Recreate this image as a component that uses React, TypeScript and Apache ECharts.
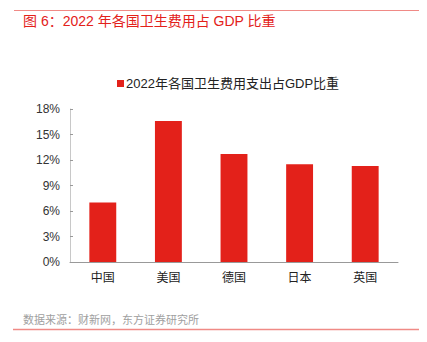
import React, { useEffect, useRef } from "react";
import * as echarts from "echarts";

const categories = ["中国", "美国", "德国", "日本", "英国"];
const values = [7.0, 16.6, 12.7, 11.5, 11.3];
const seriesName = "2022年各国卫生费用支出占GDP比重";
const titleText = "图 6：2022 年各国卫生费用占 GDP 比重";
const sourceText = "数据来源：财新网，东方证券研究所";

export default function App() {
  const ref = useRef<HTMLDivElement>(null);
  useEffect(() => {
    if (!ref.current) return;
    const chart = echarts.init(ref.current, null, { renderer: "svg" });
    const font = "'Liberation Sans', 'Noto Sans CJK SC', sans-serif";
    chart.setOption({
      animation: false,
      textStyle: { fontFamily: font },
      graphic: [
        { type: "line", shape: { x1: 14, y1: 10.5, x2: 427, y2: 10.5 }, style: { stroke: "#f08a86", lineWidth: 1 } },
        { type: "text", left: 23, top: 14, style: { text: titleText, fill: "#e3211a", fontSize: 14, fontFamily: font } },
        { type: "text", left: 23, top: 314, style: { text: sourceText, fill: "#a0a0a0", fontSize: 11, fontFamily: font } },
        { type: "line", shape: { x1: 13, y1: 329.5, x2: 427, y2: 329.5 }, style: { stroke: "#f08a86", lineWidth: 1.5 } },
      ],
      legend: {
        left: 112,
        top: 72,
        itemWidth: 7,
        itemHeight: 7,
        itemGap: 4,
        icon: "rect",
        textStyle: { fontSize: 13, color: "#222", fontFamily: font, padding: [0, 0, 0, -3] },
        data: [seriesName],
      },
      grid: { left: 70, right: 29, top: 109, bottom: 80, containLabel: false },
      xAxis: {
        type: "category",
        data: categories,
        axisLine: { lineStyle: { color: "#999" } },
        axisTick: { inside: true, length: 3, lineStyle: { color: "#999" } },
        axisLabel: { fontSize: 12, color: "#222", margin: 10, fontFamily: font },
      },
      yAxis: {
        type: "value",
        min: 0,
        max: 18,
        interval: 3,
        splitLine: { show: false },
        axisLine: { show: true, lineStyle: { color: "#c8c8c8" } },
        axisTick: { show: true, inside: true, length: 3, lineStyle: { color: "#999" } },
        axisLabel: { fontSize: 12, color: "#333", margin: 10, formatter: "{value}%", fontFamily: font },
      },
      series: [
        {
          name: seriesName,
          type: "bar",
          data: values,
          barWidth: "41%",
          itemStyle: { color: "#e3211a" },
        },
      ],
    });
    return () => chart.dispose();
  }, []);
  return <div ref={ref} style={{ width: 427, height: 342, margin: -8 }} />;
}
